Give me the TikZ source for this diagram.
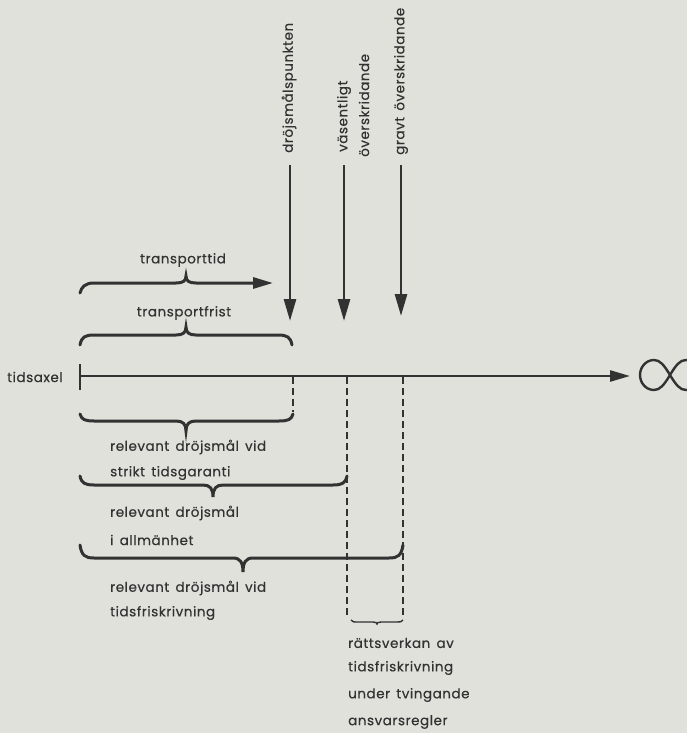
\documentclass[tikz,border=0pt]{standalone}
\usepackage{fontspec}
\setmainfont{Poppins}[LetterSpace=4.0,WordSpace=1.5,FakeBold=0.4]
\usetikzlibrary{arrows.meta}
\definecolor{bg}{RGB}{223,225,218}
\definecolor{ink}{RGB}{50,50,50}
\newcommand{\mybrace}[6]{% x1,x2,xm,y,endoff,tipoff
  \draw[bracestyle] ({#1},{#4+#5}) .. controls ({#1+1.5},{#4+0.2*#5}) and ({#1+5},{#4}) .. ({#1+14},{#4})
   -- ({#3-10},{#4}) .. controls ({#3-3},{#4}) and ({#3},{#4+0.3*#6}) .. ({#3},{#4+#6})
   .. controls ({#3},{#4+0.3*#6}) and ({#3+3},{#4}) .. ({#3+10},{#4})
   -- ({#2-14},{#4}) .. controls ({#2-5},{#4}) and ({#2-1.5},{#4+0.2*#5}) .. ({#2},{#4+#5});}
\begin{document}
\begin{tikzpicture}[x=1pt,y=-1pt,
  every node/.style={text=ink,font=\fontsize{13.5}{15}\selectfont,inner sep=0pt},
  bracestyle/.style={draw=ink,line width=3pt,line cap=round},
  dashline/.style={draw=ink,line width=1.8pt,dash pattern=on 7pt off 4pt},
  varrow/.style={draw=ink,line width=2.8pt,-{Triangle[length=22pt,width=12pt]}},
  axisline/.style={draw=ink,line width=2.6pt,-{Triangle[length=20pt,width=11pt]}},
  lbl/.style={anchor=west},
  vlbl/.style={rotate=90,anchor=west}]
\fill[bg] (0,0) rectangle (687,733);
\useasboundingbox (0,0) rectangle (687,733);

% vertical labels
\node[vlbl] (l1) at (289,153) {dröjsmålspunkten};
\node[vlbl] (l2) at (344,152) {väsentligt};
\node[vlbl] (l3) at (364,157) {överskridande};
\node[vlbl] (l4) at (401,155) {gravt överskridande};

% vertical arrows
\coordinate (a1s) at (290,165); \coordinate (a1e) at (290,321);
\coordinate (a2s) at (344,165); \coordinate (a2e) at (344,321);
\coordinate (a3s) at (401,165); \coordinate (a3e) at (401,316);
\draw[varrow] (a1s) -- (a1e);
\draw[varrow] (a2s) -- (a2e);
\draw[varrow] (a3s) -- (a3e);

% transporttid
\node (tt) at (183,260) {transporttid};
\coordinate (ttend) at (273,283);
\draw[bracestyle,-{Triangle[length=20pt,width=11pt]}] (80,293) .. controls (81.5,287) and (85,283) .. (94,283)
   -- (176,283) .. controls (183,283) and (186,281) .. (186,276)
   .. controls (186,281) and (189,283) .. (196,283) -- (ttend);

% transportfrist
\node (tf) at (184,313) {transportfrist};
\mybrace{80}{292}{186}{335}{10}{-8}

% axis
\node[anchor=west] (tax) at (7,377) {tidsaxel};
\coordinate (ax0) at (80,376);
\coordinate (axend) at (630,376);
\draw[draw=ink,line width=2.8pt] (80,364) -- (80,390);
\draw[axisline] (ax0) -- (axend);
% infinity
\draw[draw=ink,line width=2.4pt] (670,375) .. controls (664,365) and (660,360) .. (654,360)
  .. controls (646,360) and (640,367) .. (640,375)
  .. controls (640,383) and (646,390) .. (654,390)
  .. controls (660,390) and (664,385) .. (670,375)
  .. controls (676,365) and (680,360) .. (686,360)
  .. controls (694,360) and (700,367) .. (700,375)
  .. controls (700,383) and (694,390) .. (686,390)
  .. controls (680,390) and (676,385) .. (670,375);

% dashed lines
\coordinate (d1s) at (293,377); \coordinate (d1e) at (293,412);
\coordinate (d2s) at (347,377); \coordinate (d2e) at (347,616);
\coordinate (d3s) at (403,377); \coordinate (d3e) at (403,616);
\draw[dashline] (d1s) -- (d1e);
\draw[dashline] (d2s) -- (d2e);
\draw[dashline] (d3s) -- (d3e);

% lower braces
\mybrace{80}{293}{186}{421}{-7}{10}
\node[lbl] (r1) at (110,447) {relevant dröjsmål vid};
\node[lbl] (r2) at (110,473) {strikt tidsgaranti};
\mybrace{80}{347}{213}{485}{-9}{12}
\node[lbl] (r3) at (110,513) {relevant dröjsmål};
\node[lbl] (r4) at (110,540) {i allmänhet};
\mybrace{80}{403}{243}{558}{-13}{14}
\node[lbl] (r5) at (110,588) {relevant dröjsmål vid};
\node[lbl] (r6) at (110,613) {tidsfriskrivning};

% small brace
\draw[draw=ink,line width=1.4pt] (351,620) .. controls (352,622) and (354,622) .. (358,622) -- (373,622)
  .. controls (376,622) and (377,623) .. (377,624) .. controls (377,623) and (378,622) .. (381,622)
  -- (397,622) .. controls (400,622) and (402,622) .. (403,620);
\node[lbl] (b1) at (348,643) {rättsverkan av};
\node[lbl] (b2) at (348,668) {tidsfriskrivning};
\node[lbl] (b3) at (348,695) {under tvingande};
\node[lbl] (b4) at (348,722) {ansvarsregler};
\end{tikzpicture}
\end{document}
